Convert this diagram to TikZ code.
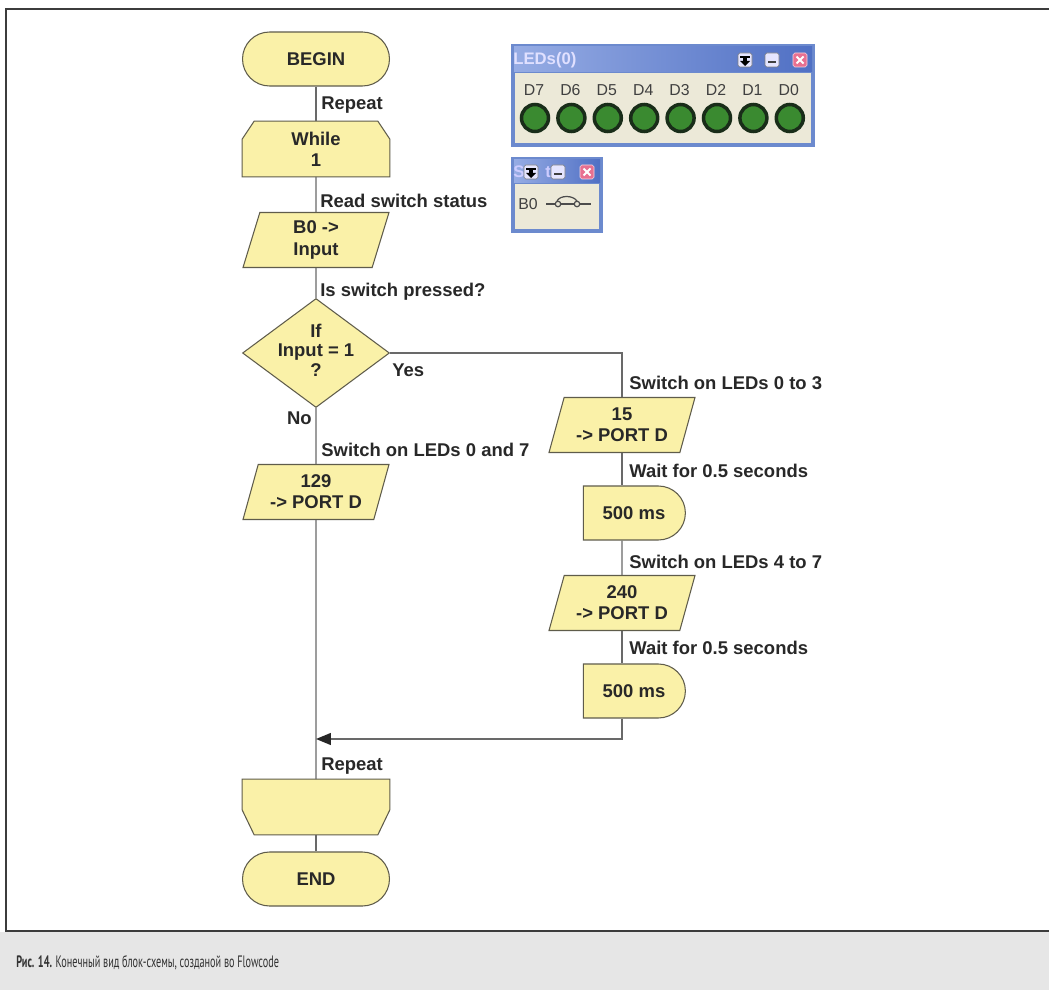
\documentclass[tikz,border=0pt]{standalone}
\usepackage{fontspec}
\setmainfont{Liberation Sans}
\newfontfamily\capfont{PT Sans}[FakeStretch=0.62]
\usetikzlibrary{shapes.geometric,shapes.misc,arrows.meta,backgrounds}
\definecolor{fyel}{RGB}{250,241,168}
\definecolor{fbord}{RGB}{95,92,75}
\definecolor{lne}{RGB}{105,105,105}
\definecolor{txt}{RGB}{40,40,40}
\definecolor{winblue}{RGB}{108,138,206}
\definecolor{winblueL}{RGB}{150,172,228}
\definecolor{winblueD}{RGB}{80,112,196}
\definecolor{winbody}{RGB}{236,233,216}
\definecolor{ledg}{RGB}{58,138,48}
\definecolor{ledd}{RGB}{25,45,25}
\definecolor{capgray}{RGB}{230,230,230}
\definecolor{framec}{RGB}{60,60,60}
\definecolor{closec}{RGB}{232,112,145}
\newcommand\flowfont{\fontsize{10.5}{12}\selectfont\bfseries}
\newcommand\winfont{\fontsize{9}{10}\selectfont}
\tikzset{
  flow/.style={draw=fbord,fill=fyel,line width=0.6pt,text=txt,font=\flowfont,align=center,inner sep=0pt},
  shapeline/.style={draw=fbord,fill=fyel,line width=0.6pt},
  flowtxt/.style={text=txt,font=\flowfont,align=center,inner sep=0pt,minimum width=2.94cm,minimum height=1.1cm},
  term/.style={flow,rounded rectangle,minimum width=2.94cm,minimum height=1.08cm},
  io/.style={flow,trapezium,trapezium left angle=66,trapezium right angle=114,trapezium stretches body,minimum width=2.92cm,minimum height=1.1cm},
  decis/.style={flow,diamond,minimum width=2.94cm,minimum height=2.18cm},
  delaybox/.style={flow,rounded rectangle,rounded rectangle west arc=none,minimum width=2.04cm,minimum height=1.08cm},
  conn/.style={draw=lne,line width=0.8pt},
  lbl/.style={text=txt,font=\flowfont,inner sep=0pt,anchor=west},
  wtxt/.style={text=black!75,font=\winfont,inner sep=0pt},
  pinb/.pic={
    \fill[white!90!blue,draw=black!50,line width=0.3pt,rounded corners=1pt] (-7,-7) rectangle (7,7);
    \fill[black] (-5,-4) rectangle (5,-2);
    \fill[black] (-2,-2) rectangle (2,1);
    \fill[black] (-5,1) -- (5,1) -- (0,6) -- cycle;
  },
  minb/.pic={
    \fill[white!90!blue,draw=black!50,line width=0.3pt,rounded corners=1pt] (-7,-7) rectangle (7,7);
    \fill[black!75] (-4,1) rectangle (4,3);
  },
  closeb/.pic={
    \fill[closec,draw=white!70!closec,line width=0.3pt,rounded corners=1pt] (-7,-7) rectangle (7,7);
    \draw[white,line width=1.2pt] (-3.5,-3.5) -- (3.5,3.5) (-3.5,3.5) -- (3.5,-3.5);
  }
}
\begin{document}
\begin{tikzpicture}[x=0.02cm,y=-0.02cm]
\useasboundingbox (0,0) rectangle (1049,990);
\begin{pgfonlayer}{background}
\fill[white] (0,0) rectangle (1049,990);
\fill[capgray] (0,932) rectangle (1049,990);
\draw[framec,line width=1.2pt] (1049,9) -- (6,9) -- (6,931) -- (1049,931);
\end{pgfonlayer}

% flow nodes
\node[term] (begin) at (316,59) {BEGIN};
\node[flowtxt] (while) at (316,149) {While\\1};
\node[io] (inp) at (316,240) {B0 ->\\Input};
\node[decis] (dec) at (316,353) {};
\node[text=txt,font=\fontsize{10.5}{11}\selectfont\bfseries,align=center,inner sep=0pt] (dectxt) at (316,350) {If\\Input = 1\\?};
\node[io] (p129) at (316,492) {129\\-> PORT D};
\node[io] (p15) at (622,425) {15\\-> PORT D};
\node[delaybox] (d1) at (634,513) {500 ms};
\node[io] (p240) at (622,603) {240\\-> PORT D};
\node[delaybox] (d2) at (634,691) {500 ms};
\node[flowtxt] (endl) at (316,807) {};
\node[term] (end) at (316,879) {END};
\coordinate (j) at (316,739);

\begin{pgfonlayer}{background}
\draw[shapeline] ([xshift=0.24cm]while.north west) -- ([xshift=-0.24cm]while.north east)
  -- ([yshift=-0.36cm]while.north east) -- (while.south east) -- (while.south west)
  -- ([yshift=-0.36cm]while.north west) -- cycle;
\draw[shapeline] (endl.north west) -- (endl.north east) -- ([yshift=0.5cm]endl.south east)
  -- ([xshift=-0.24cm]endl.south east) -- ([xshift=0.24cm]endl.south west)
  -- ([yshift=0.5cm]endl.south west) -- cycle;
\end{pgfonlayer}

% connectors
\draw[conn] (begin.south) -- (while.north);
\draw[conn] (while.south) -- (inp.north);
\draw[conn] (inp.south) -- (dec.north);
\draw[conn] (dec.east) -| (p15.north);
\draw[conn] (dec.south) -- (p129.north);
\draw[conn] (p129.south) -- (endl.north);
\draw[conn] (p15.south) -- (p15.south |- d1.north);
\draw[conn] (p15.south |- d1.south) -- (p240.north);
\draw[conn] (p240.south) -- (p240.south |- d2.north);
\draw[conn,-{Triangle[length=0.3cm,width=0.24cm,color=black!85]}] (p240.south |- d2.south) |- (j);
\draw[conn] (endl.south) -- (end.north);

% labels
\node[lbl] (l1) at (321,105) {Repeat};
\node[lbl] (l2) at (320,201) {Read switch status};
\node[lbl] (l3) at (320,292) {Is switch pressed?};
\node[lbl] (lyes) at (392,370) {Yes};
\node[lbl,anchor=east] (lno) at (312,418) {No};
\node[lbl] (l4) at (321,450) {Switch on LEDs 0 and 7};
\node[lbl] (l5) at (629,383) {Switch on LEDs 0 to 3};
\node[lbl] (l6) at (629,471) {Wait for 0.5 seconds};
\node[lbl] (l7) at (629,562) {Switch on LEDs 4 to 7};
\node[lbl] (l8) at (629,648) {Wait for 0.5 seconds};
\node[lbl] (l9) at (321,766) {Repeat};

% LED window
\fill[winblue] (511,44) rectangle (815,147);
\shade[left color=winblueL,right color=winblueD] (514,47) rectangle (812,72);
\fill[winbody] (515,73) rectangle (811,143);
\node[anchor=west,inner sep=0pt,text=white!88!blue,font=\fontsize{9.5}{10}\selectfont\bfseries] (ledtitle) at (513,60) {LEDs(0)};
\pic at (745,60) {pinb};
\pic at (772,60) {minb};
\pic at (800,60) {closeb};
\foreach \i/\t in {0/D7,1/D6,2/D5,3/D4,4/D3,5/D2,6/D1,7/D0}{
  \node[wtxt] (dl\i) at ({534+36.4*\i},90) {\t};
  \draw[fill=ledg,draw=ledd,line width=2pt] ({535+36.4*\i},118) circle[radius=0.27cm];
}

% switch window
\fill[winblue] (511,157) rectangle (603,233);
\shade[left color=winblueL,right color=winblueD] (514,160) rectangle (600,183);
\fill[winbody] (515,184) rectangle (599,229);
\node[anchor=west,inner sep=0pt,text=white!80!blue,font=\fontsize{9.5}{10}\selectfont\bfseries] (swtitle) at (513,172) {S\hspace{1.25em}t};
\pic at (531,172) {pinb};
\pic at (558,172) {minb};
\pic at (587,172) {closeb};
\node[wtxt] (b0) at (528,204) {B0};
\coordinate (s1) at (546,204);
\coordinate (s2) at (591,204);
\draw[black!70,line width=0.7pt] (s1) -- (555,204) (561,204) -- (574,204) (580,204) -- (s2);
\draw[black!70,line width=0.7pt] (558,204) circle[radius=0.055cm] (577,204) circle[radius=0.055cm];
\draw[black!70,line width=0.7pt] (557,201) .. controls (560,195) and (573,195) .. (577,201);

% caption
\node[anchor=west,inner sep=0pt,text=black!80,font=\capfont\fontsize{9.4}{10}\selectfont] (cap) at (16,963) {\textbf{Рис. 14.} Конечный вид блок-схемы, созданой во Flowcode};
\end{tikzpicture}
\end{document}
